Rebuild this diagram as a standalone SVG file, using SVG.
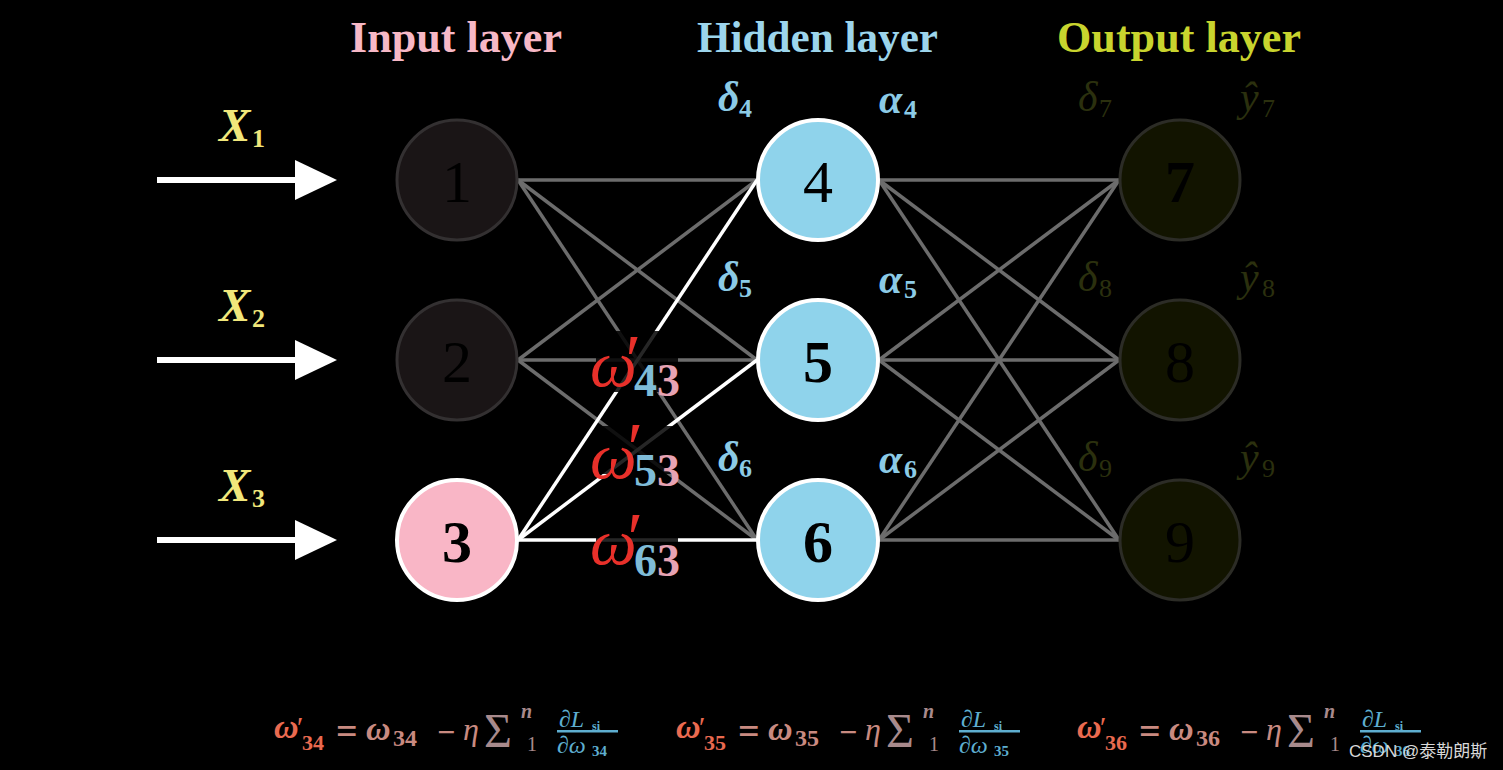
<svg xmlns="http://www.w3.org/2000/svg" width="1503" height="770" viewBox="0 0 1503 770">
<defs>
<style>
.t{font-family:"Liberation Serif","DejaVu Serif",serif}
.ttl{font-family:"Liberation Serif","DejaVu Serif",serif;font-size:44px;font-weight:bold}
.m{font-family:"Liberation Serif","DejaVu Serif",serif;font-style:italic}
.d{font-family:"Liberation Serif","DejaVu Serif",serif;font-weight:bold}
.num{font-family:"Liberation Serif","DejaVu Serif",serif;font-size:60px;text-anchor:middle;fill:#000}
.g{stroke:#6c6c6c;stroke-width:3.5;fill:none}
.w{stroke:#ffffff;stroke-width:3.5;fill:none}
.inD{fill:#1a1516;stroke:#333031;stroke-width:3}
.hid{fill:#8fd3eb;stroke:#ffffff;stroke-width:4}
.out{fill:#121400;stroke:#2c2c26;stroke-width:3}
.blu{fill:#8ccbe6}
.olv{fill:#2b300e}
.om{fill:#e8302a}
.s4{fill:#7fbcd8}
.s3{fill:#e7a3b3}
.f1{fill:#ea6a50}
.f2{fill:#c98a80}
.f3{fill:#a88a8c}
.f4{fill:#5eaed0}
</style>
</defs>
<rect width="1503" height="770" fill="#000"/>

<g id="titles">
<text class="ttl" x="350" y="52" fill="#f7b8c6" textLength="212" lengthAdjust="spacingAndGlyphs">Input layer</text>
<text class="ttl" x="697" y="52" fill="#9cd5ec" textLength="241" lengthAdjust="spacingAndGlyphs">Hidden layer</text>
<text class="ttl" x="1057" y="52" fill="#c8d42e" textLength="244" lengthAdjust="spacingAndGlyphs">Output layer</text>
</g>

<g id="inputs">
<g id="x1">
<rect x="157" y="177" width="140" height="6" fill="#fff"/>
<polygon points="295,160 337,180 295,200" fill="#fff"/>
<text class="m" x="219" y="141" font-size="47" font-weight="bold" fill="#f1e77b">X</text>
<text class="d" x="252" y="147" font-size="26" fill="#f1e77b">1</text>
</g>
<g id="x2">
<rect x="157" y="357" width="140" height="6" fill="#fff"/>
<polygon points="295,340 337,360 295,380" fill="#fff"/>
<text class="m" x="219" y="321" font-size="47" font-weight="bold" fill="#f1e77b">X</text>
<text class="d" x="252" y="327" font-size="26" fill="#f1e77b">2</text>
</g>
<g id="x3">
<rect x="157" y="537" width="140" height="6" fill="#fff"/>
<polygon points="295,520 337,540 295,560" fill="#fff"/>
<text class="m" x="219" y="501" font-size="47" font-weight="bold" fill="#f1e77b">X</text>
<text class="d" x="252" y="507" font-size="26" fill="#f1e77b">3</text>
</g>
</g>

<g id="connectors">
<line class="g" x1="518" y1="180" x2="757" y2="180"/>
<line class="g" x1="518" y1="180" x2="757" y2="360"/>
<line class="g" x1="518" y1="180" x2="757" y2="540"/>
<line class="g" x1="518" y1="360" x2="757" y2="180"/>
<line class="g" x1="518" y1="360" x2="757" y2="360"/>
<line class="g" x1="518" y1="360" x2="757" y2="540"/>
<line class="w" x1="518" y1="540" x2="757" y2="180"/>
<line class="w" x1="518" y1="540" x2="757" y2="360"/>
<line class="w" x1="518" y1="540" x2="757" y2="540"/>
<line class="g" x1="879" y1="180" x2="1119" y2="180"/>
<line class="g" x1="879" y1="180" x2="1119" y2="360"/>
<line class="g" x1="879" y1="180" x2="1119" y2="540"/>
<line class="g" x1="879" y1="360" x2="1119" y2="180"/>
<line class="g" x1="879" y1="360" x2="1119" y2="360"/>
<line class="g" x1="879" y1="360" x2="1119" y2="540"/>
<line class="g" x1="879" y1="540" x2="1119" y2="180"/>
<line class="g" x1="879" y1="540" x2="1119" y2="360"/>
<line class="g" x1="879" y1="540" x2="1119" y2="540"/>
</g>

<g id="weight-labels">
<g id="w43">
<rect x="596" y="331" width="82" height="61" fill="#000" opacity="0.85"/>
<text class="m om" x="590" y="386" font-size="66">ω</text>
<text class="m om" x="621" y="384" font-size="72">′</text>
<text class="d" x="634" y="396" font-size="46"><tspan class="s4">4</tspan><tspan class="s3">3</tspan></text>
</g>
<g id="w53">
<rect x="596" y="426" width="82" height="48" fill="#000" opacity="0.85"/>
<text class="m om" x="590" y="478" font-size="66">ω</text>
<text class="m om" x="623" y="472" font-size="72">′</text>
<text class="d" x="634" y="486" font-size="46"><tspan class="s4">5</tspan><tspan class="s3">3</tspan></text>
</g>
<g id="w63">
<rect x="596" y="512" width="82" height="60" fill="#000" opacity="0.85"/>
<text class="m om" x="590" y="564" font-size="66">ω</text>
<text class="m om" x="623" y="562" font-size="72">′</text>
<text class="d" x="634" y="576" font-size="46"><tspan class="s4">6</tspan><tspan class="s3">3</tspan></text>
</g>
</g>

<g id="node1"><circle class="inD" cx="457" cy="180" r="60"/><text class="num" x="457" y="202">1</text></g>
<g id="node2"><circle class="inD" cx="457" cy="360" r="60"/><text class="num" x="457" y="382">2</text></g>
<g id="node3"><circle cx="457" cy="540" r="60" fill="#f9b6c6" stroke="#fff" stroke-width="4"/><text class="num" x="457" y="562" font-weight="bold">3</text></g>

<g id="node4"><circle class="hid" cx="818" cy="180" r="60"/><text class="num" x="818" y="202">4</text></g>
<g id="node5"><circle class="hid" cx="818" cy="360" r="60"/><text class="num" x="818" y="382" font-weight="bold">5</text></g>
<g id="node6"><circle class="hid" cx="818" cy="540" r="60"/><text class="num" x="818" y="562" font-weight="bold">6</text></g>

<g id="node7"><circle class="out" cx="1180" cy="180" r="60"/><text class="num" x="1180" y="202" font-weight="bold">7</text></g>
<g id="node8"><circle class="out" cx="1180" cy="360" r="60"/><text class="num" x="1180" y="382">8</text></g>
<g id="node9"><circle class="out" cx="1180" cy="540" r="60"/><text class="num" x="1180" y="562">9</text></g>

<g id="hidden-labels" font-weight="bold">
<text class="m blu" x="718" y="111" font-size="42">δ</text><text class="d blu" x="739" y="117" font-size="26">4</text>
<text class="m blu" x="879" y="113" font-size="42">α</text><text class="d blu" x="904" y="118" font-size="26">4</text>
<text class="m blu" x="718" y="291" font-size="42">δ</text><text class="d blu" x="739" y="297" font-size="26">5</text>
<text class="m blu" x="879" y="293" font-size="42">α</text><text class="d blu" x="904" y="298" font-size="26">5</text>
<text class="m blu" x="718" y="471" font-size="42">δ</text><text class="d blu" x="739" y="477" font-size="26">6</text>
<text class="m blu" x="879" y="473" font-size="42">α</text><text class="d blu" x="904" y="478" font-size="26">6</text>
</g>

<g id="output-labels">
<text class="m olv" x="1078" y="111" font-size="42">δ</text><text class="t olv" x="1099" y="117" font-size="26">7</text>
<text class="m olv" x="1240" y="111" font-size="42">ŷ</text><text class="t olv" x="1262" y="117" font-size="26">7</text>
<text class="m olv" x="1078" y="291" font-size="42">δ</text><text class="t olv" x="1099" y="297" font-size="26">8</text>
<text class="m olv" x="1240" y="291" font-size="42">ŷ</text><text class="t olv" x="1262" y="297" font-size="26">8</text>
<text class="m olv" x="1078" y="471" font-size="42">δ</text><text class="t olv" x="1099" y="477" font-size="26">9</text>
<text class="m olv" x="1240" y="471" font-size="42">ŷ</text><text class="t olv" x="1262" y="477" font-size="26">9</text>
</g>

<g id="formula1">
<text class="m f1" x="274" y="738" font-size="34" font-weight="bold">ω</text>
<text class="m f1" x="295" y="737" font-size="30">′</text>
<text class="d f1" x="302" y="750" font-size="22">34</text>
<text class="d f2" x="336" y="744" font-size="38">=</text>
<text class="m f2" x="366" y="740" font-size="34" font-weight="bold">ω</text>
<text class="d f2" x="393" y="746" font-size="24">34</text>
<text class="d f2" x="437" y="743" font-size="32">−</text>
<text class="m f2" x="463" y="740" font-size="32">η</text>
<text class="t f3" x="484" y="747" font-size="48">Σ</text>
<text class="m f3" x="521" y="718" font-size="20" font-weight="bold">n</text>
<text class="t f3" x="527" y="751" font-size="20">1</text>
<text class="m f4" x="559" y="727" font-size="24">∂L</text>
<text class="d f4" x="592" y="730" font-size="12">si</text>
<rect x="557" y="730" width="61" height="2.5" fill="#5eaed0"/>
<text class="m f4" x="557" y="753" font-size="24">∂ω</text>
<text class="d f4" x="592" y="756" font-size="15">34</text>
</g>

<g id="formula2" transform="translate(402,0)">
<text class="m f1" x="274" y="738" font-size="34" font-weight="bold">ω</text>
<text class="m f1" x="295" y="737" font-size="30">′</text>
<text class="d f1" x="302" y="750" font-size="22">35</text>
<text class="d f2" x="336" y="744" font-size="38">=</text>
<text class="m f2" x="366" y="740" font-size="34" font-weight="bold">ω</text>
<text class="d f2" x="393" y="746" font-size="24">35</text>
<text class="d f2" x="437" y="743" font-size="32">−</text>
<text class="m f2" x="463" y="740" font-size="32">η</text>
<text class="t f3" x="484" y="747" font-size="48">Σ</text>
<text class="m f3" x="521" y="718" font-size="20" font-weight="bold">n</text>
<text class="t f3" x="527" y="751" font-size="20">1</text>
<text class="m f4" x="559" y="727" font-size="24">∂L</text>
<text class="d f4" x="592" y="730" font-size="12">si</text>
<rect x="557" y="730" width="61" height="2.5" fill="#5eaed0"/>
<text class="m f4" x="557" y="753" font-size="24">∂ω</text>
<text class="d f4" x="592" y="756" font-size="15">35</text>
</g>

<g id="formula3" transform="translate(803,0)">
<text class="m f1" x="274" y="738" font-size="34" font-weight="bold">ω</text>
<text class="m f1" x="295" y="737" font-size="30">′</text>
<text class="d f1" x="302" y="750" font-size="22">36</text>
<text class="d f2" x="336" y="744" font-size="38">=</text>
<text class="m f2" x="366" y="740" font-size="34" font-weight="bold">ω</text>
<text class="d f2" x="393" y="746" font-size="24">36</text>
<text class="d f2" x="437" y="743" font-size="32">−</text>
<text class="m f2" x="463" y="740" font-size="32">η</text>
<text class="t f3" x="484" y="747" font-size="48">Σ</text>
<text class="m f3" x="521" y="718" font-size="20" font-weight="bold">n</text>
<text class="t f3" x="527" y="751" font-size="20">1</text>
<text class="m f4" x="559" y="727" font-size="24">∂L</text>
<text class="d f4" x="592" y="730" font-size="12">si</text>
<rect x="557" y="730" width="61" height="2.5" fill="#5eaed0"/>
<text class="m f4" x="557" y="753" font-size="24">∂ω</text>
<text class="d f4" x="592" y="756" font-size="15">36</text>
</g>

<text id="watermark" x="1349" y="757" font-family="'Liberation Sans','Noto Sans CJK SC',sans-serif" font-size="17" fill="#d8d8d8">CSDN @泰勒朗斯</text>
</svg>
